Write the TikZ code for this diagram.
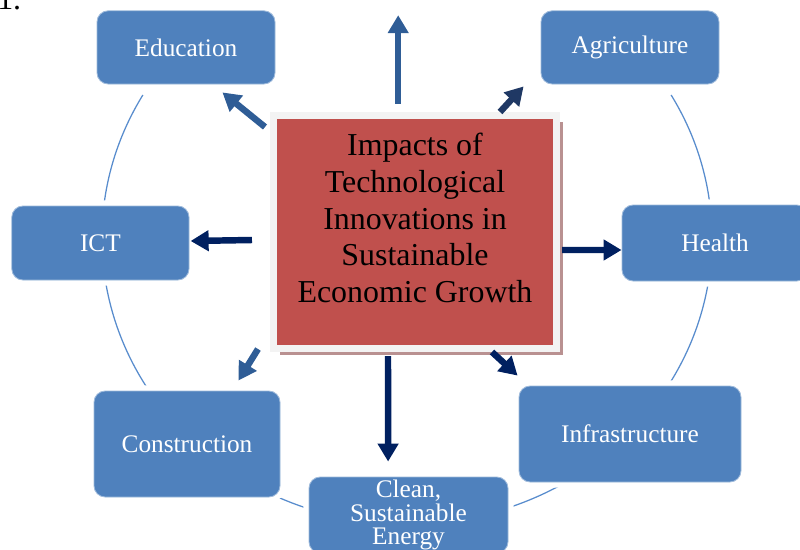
\documentclass[tikz,border=0pt]{standalone}
\usepackage{fontspec}
\setmainfont{Liberation Serif}
\usetikzlibrary{arrows.meta,shadows}

\definecolor{boxblue}{RGB}{79,129,189}
\definecolor{ringblue}{RGB}{88,140,205}
\definecolor{hubred}{RGB}{192,80,77}
\definecolor{hubframe}{RGB}{243,243,243}
\definecolor{hubshadow}{RGB}{185,145,145}
\definecolor{arrowsteel}{RGB}{47,93,150}
\definecolor{arrowdeep}{RGB}{31,56,100}
\definecolor{arrownavy}{RGB}{0,32,96}

\begin{document}
\begin{tikzpicture}[
  >={Triangle[width=0.5cm,length=0.45cm]},
  field/.style={rectangle,rounded corners=0.28cm,fill=boxblue,draw=white!45!boxblue,
    line width=0.6pt,preaction={draw=white,line width=8pt},text=white,align=center,
    font=\fontsize{18}{17}\selectfont,inner sep=0pt},
  hubbox/.style={rectangle,fill=hubred,draw=hubframe,line width=5pt,
    minimum width=7.075cm,minimum height=5.825cm,
    drop shadow={shadow xshift=4.5pt,shadow yshift=-4.5pt,fill=hubshadow,opacity=1}},
  impact/.style={->,line width=4.6pt},
  ring/.style={ringblue,line width=0.9pt}
]
  \useasboundingbox (0,0) rectangle (20,13.725);

  \node[anchor=base west,inner sep=0pt,font=\fontsize{22.7}{26.2}\selectfont] (fignum)
    at (-0.075,13.5) {1.};

  % ring behind the outer boxes
  \coordinate (centre) at (10.175,7.775);
  \draw[ring] (centre) ++(150:7.625 and 7.15)
    arc[start angle=150,end angle=390,x radius=7.625,y radius=7.15];

  % outer boxes
  \node[field,minimum width=4.45cm,minimum height=1.83cm] (edu) at (4.65,12.54) {Education};
  \node[field,minimum width=4.45cm,minimum height=1.83cm] (agri) at (15.75,12.54) {Agriculture};
  \node[field,minimum width=4.43cm,minimum height=1.85cm] (ict) at (2.51,7.65) {ICT};
  \node[field,minimum width=4.65cm,minimum height=1.9cm] (health) at (17.875,7.65) {Health};
  \node[field,minimum width=4.65cm,minimum height=2.65cm] (constr) at (4.675,2.625) {Construction};
  \node[field,minimum width=5.55cm,minimum height=2.4cm] (infra) at (15.75,2.875) {Infrastructure};
  \node[field,minimum width=4.975cm,minimum height=1.9cm] (energy) at (10.2125,0.85)
    {Clean,\\Sustainable\\Energy};

  % central box
  \node[hubbox] (hub) at (10.375,7.925) {};
  \node[align=center,font=\fontsize{22.7}{26.2}\selectfont] (hubtext) at (10.375,8.275)
    {Impacts of\\Technological\\Innovations in\\Sustainable\\Economic Growth};

  % arrows out of the central box
  \draw[impact,arrowsteel] ([shift={(-0.42,0.2)}]hub.north) -- ([shift={(-0.42,2.42)}]hub.north);
  \draw[impact,arrowsteel] ([shift={(-0.125,-0.375)}]hub.north west) -- ([shift={(-1.325,-0.2)}]edu.south east);
  \draw[impact,arrowdeep] ([shift={(-1.5,0)}]hub.north east) -- ([shift={(-0.425,-0.05)}]agri.south west);
  \draw[impact,arrownavy] ([shift={(-0.45,-0.2)}]hub.west) -- ([shift={(0.03,0.05)}]ict.east);
  \draw[impact,arrownavy] ([shift={(0.05,-0.45)}]hub.east) -- ([shift={(0,-0.175)}]health.west);
  \draw[impact,arrowsteel] ([shift={(-0.3,0.075)}]hub.south west) -- ([shift={(-1.05,0.25)}]constr.north east);
  \draw[impact,arrownavy] ([shift={(-0.675,-0.1)}]hub.south) -- ([shift={(-0.51,0.375)}]energy.north);
  \draw[impact,arrownavy] ([shift={(-1.7,0)}]hub.south east) -- ([shift={(-0.025,0.25)}]infra.north west);
\end{tikzpicture}
\end{document}
